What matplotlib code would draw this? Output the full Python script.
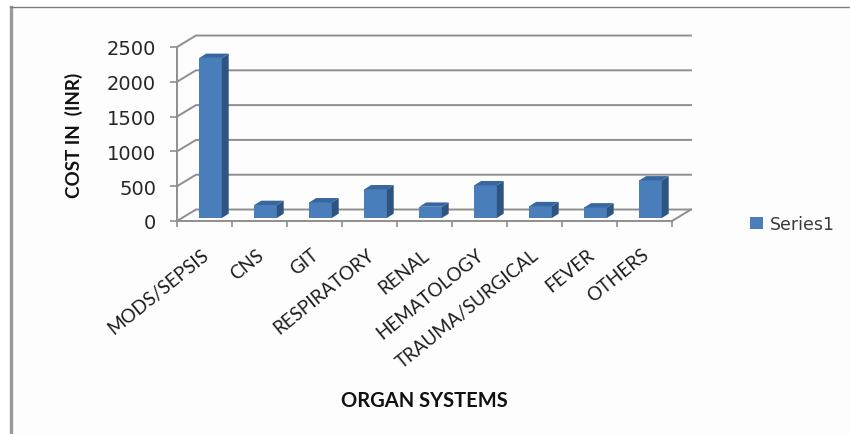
import matplotlib

matplotlib.use("Agg")

import matplotlib.pyplot as plt
from matplotlib.lines import Line2D
from matplotlib.patches import Polygon, Rectangle

categories = ["MODS/SEPSIS", "CNS", "GIT", "RESPIRATORY", "RENAL",
              "HEMATOLOGY", "TRAUMA/SURGICAL", "FEVER", "OTHERS"]
costs = [2300, 187, 225, 412, 162, 470, 170, 152, 540]
y_ticks = [0, 500, 1000, 1500, 2000, 2500]

GRID = "#8e8e8e"
FRONT = "#4a7ebb"
SIDE = "#2f5482"
TOP = "#38669e"
TEXT = "#262626"

# fake 3D box: depth of the floor and of each bar, in data units
WALL_DX, WALL_DY = 0.345, 165
BAR_DX, BAR_DY = 0.125, 62
BAR_WIDTH = 0.41
BAR_SHIFT = 0.11
BAR_FLOOR = 43

fig = plt.figure(figsize=(8.5, 4.35), dpi=100, facecolor="white")

# outer frame, only left and top edges are visible
fig.add_artist(Rectangle((10.5 / 850, 0), 840 / 850, 1 - 7.5 / 435,
                         transform=fig.transFigure, facecolor="#fdfdfd",
                         edgecolor="none", zorder=-2))
fig.add_artist(Line2D([10.5 / 850, 10.5 / 850], [0, 1 - 7.5 / 435],
                      color="#9a9a9a", lw=2.4, zorder=-1))
fig.add_artist(Line2D([10 / 850, 1], [1 - 7.5 / 435, 1 - 7.5 / 435],
                      color="#7d7d7d", lw=1.0, zorder=-1))

ax = fig.add_axes([177 / 850, 1 - 222 / 435, 495 / 850, 174 / 435])
ax.patch.set_visible(False)
ax.set_xlim(0, len(categories))
ax.set_ylim(0, 2500)

# back wall gridlines and their slanted parts on the side wall
for v in y_ticks:
    ax.plot([0, WALL_DX, len(categories) + WALL_DX],
            [v, v + WALL_DY, v + WALL_DY],
            color=GRID, lw=1.4, clip_on=False, zorder=1)

# floor outline on the right
ax.plot([len(categories), len(categories) + WALL_DX], [0, WALL_DY],
        color=GRID, lw=1.4, clip_on=False, zorder=1)

positions = [i + 0.5 + BAR_SHIFT for i in range(len(categories))]
ax.bar(positions, costs, width=BAR_WIDTH, bottom=BAR_FLOOR, color=FRONT,
       label="Series1", zorder=3, clip_on=False)

for x, cost in zip(positions, costs):
    right = x + BAR_WIDTH / 2
    left = x - BAR_WIDTH / 2
    top = BAR_FLOOR + cost
    ax.add_patch(Polygon([(right, BAR_FLOOR), (right + BAR_DX, BAR_FLOOR + BAR_DY),
                          (right + BAR_DX, top + BAR_DY), (right, top)],
                         facecolor=SIDE, edgecolor="none", zorder=3, clip_on=False))
    ax.add_patch(Polygon([(left, top), (right, top),
                          (right + BAR_DX, top + BAR_DY), (left + BAR_DX, top + BAR_DY)],
                         facecolor=TOP, edgecolor="none", zorder=3, clip_on=False))

for side in ("top", "right"):
    ax.spines[side].set_visible(False)
for side in ("left", "bottom"):
    ax.spines[side].set_color(GRID)
    ax.spines[side].set_linewidth(1.4)

ax.set_yticks(y_ticks)
ax.set_yticklabels([str(v) for v in y_ticks], fontsize=14, color=TEXT,
                   family="DejaVu Sans")
ax.tick_params(axis="y", length=5, width=1.2, color=GRID, pad=10)

# ticks sit between the categories, labels near the middle of each slot
ax.set_xticks(range(len(categories) + 1))
ax.set_xticklabels([])
ax.tick_params(axis="x", which="major", length=4.5, width=1.2, color=GRID)
ax.set_xticks([i + 0.44 for i in range(len(categories))], minor=True)
ax.set_xticklabels(categories, minor=True, rotation=39, ha="right",
                   rotation_mode="anchor", fontsize=13.5, color="#1c1c1c",
                   family="Lato")
ax.tick_params(axis="x", which="minor", length=0, pad=17.5)

ax.set_ylabel("COST IN  (INR)", fontsize=13.5, fontweight="bold", color="#111111",
              family="Lato", va="center")
ax.yaxis.set_label_coords(-103 / 495, 87 / 174)
ax.set_xlabel("ORGAN SYSTEMS", fontsize=14.5, fontweight="bold", color="#111111",
              family="Lato", va="center")
ax.xaxis.set_label_coords(247 / 495, -179 / 174)

ax.legend(loc="center left", bbox_to_anchor=(750 / 850, 1 - 225 / 435),
          bbox_transform=fig.transFigure, frameon=False, handlelength=0.75,
          handleheight=0.7, handletextpad=0.4, borderpad=0, borderaxespad=0,
          prop={"family": "DejaVu Sans", "size": 12.5}, labelcolor="#3a3a3a")

fig.savefig("out.png", dpi=100, facecolor=fig.get_facecolor())
plt.close(fig)
